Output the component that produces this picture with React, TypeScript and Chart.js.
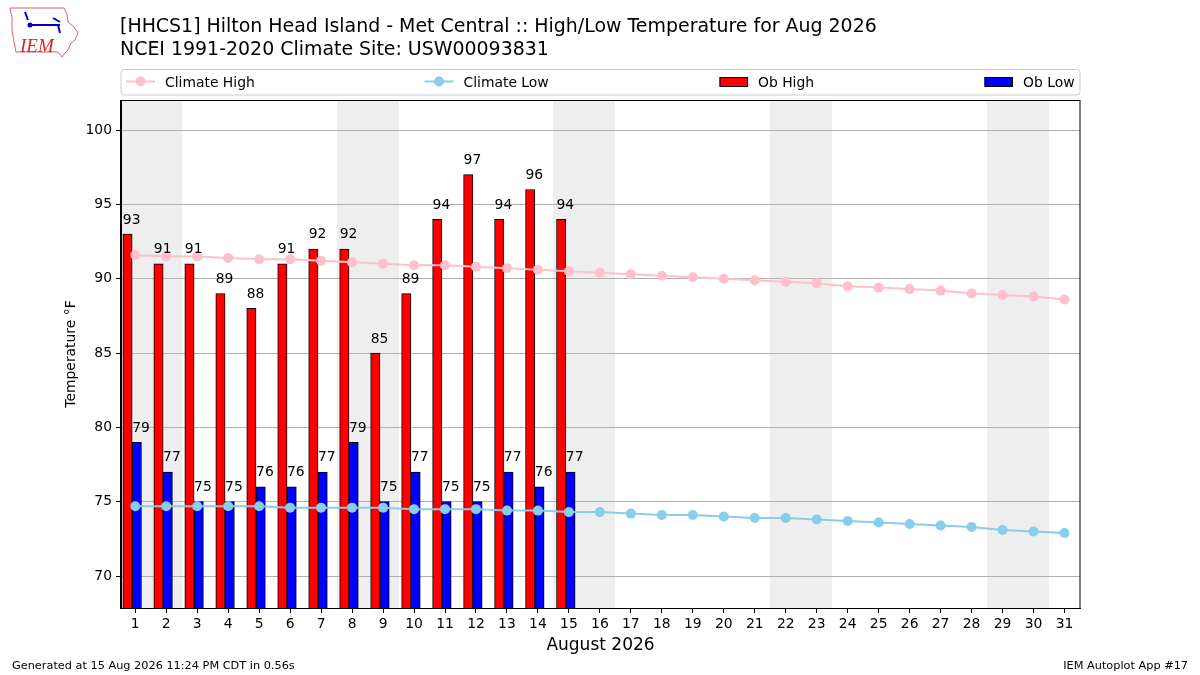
import { useEffect, useRef } from "react";
import { Chart, registerables } from "chart.js";

Chart.register(...registerables);

const days = [1, 2, 3, 4, 5, 6, 7, 8, 9, 10, 11, 12, 13, 14, 15, 16, 17, 18, 19, 20, 21, 22, 23, 24, 25, 26, 27, 28, 29, 30, 31];
const climateHigh = [91.6, 91.5, 91.5, 91.4, 91.3, 91.3, 91.2, 91.1, 91.0, 90.9, 90.9, 90.8, 90.7, 90.6, 90.5, 90.4, 90.3, 90.2, 90.1, 90.0, 89.9, 89.8, 89.7, 89.5, 89.4, 89.3, 89.2, 89.0, 88.9, 88.8, 88.6];
const climateLow = [74.7, 74.7, 74.7, 74.7, 74.7, 74.6, 74.6, 74.6, 74.6, 74.5, 74.5, 74.5, 74.4, 74.4, 74.3, 74.3, 74.2, 74.1, 74.1, 74.0, 73.9, 73.9, 73.8, 73.7, 73.6, 73.5, 73.4, 73.3, 73.1, 73.0, 72.9];
const obDays = [1, 2, 3, 4, 5, 6, 7, 8, 9, 10, 11, 12, 13, 14, 15];
const obHigh = [93, 91, 91, 89, 88, 91, 92, 92, 85, 89, 94, 97, 94, 96, 94];
const obLow = [79, 77, 75, 75, 76, 76, 77, 79, 75, 77, 75, 75, 77, 76, 77];
const weekendStarts = [1, 8, 15, 22, 29];
const yTicks = [70, 75, 80, 85, 90, 95, 100];

const titleLines = [
  "[HHCS1] Hilton Head Island - Met Central :: High/Low Temperature for Aug 2026",
  "NCEI 1991-2020 Climate Site: USW00093831",
];
const xTitle = "August 2026";
const yTitle = "Temperature °F";
const footerLeft = "Generated at 15 Aug 2026 11:24 PM CDT in 0.56s";
const footerRight = "IEM Autoplot App #17";

const FONT = "'DejaVu Sans', sans-serif";
const HIGH_OFFSET = -0.25;
const LOW_OFFSET = 0.05;

export default function App() {
  const ref = useRef<HTMLCanvasElement>(null);

  useEffect(() => {
    const canvas = ref.current;
    if (!canvas) return;

    const decor = {
      id: "decor",
      beforeDraw(chart: any) {
        const { ctx, chartArea } = chart;
        const xs = chart.scales.x;
        ctx.save();
        ctx.fillStyle = "#ffffff";
        ctx.fillRect(0, 0, chart.width, chart.height);
        ctx.fillStyle = "#eeeeee";
        for (const d of weekendStarts) {
          const x0 = Math.round(Math.max(chartArea.left, xs.getPixelForValue(d - 0.5)));
          const x1 = Math.round(Math.min(chartArea.right, xs.getPixelForValue(d + 1.5)));
          ctx.fillRect(x0, chartArea.top, x1 - x0, chartArea.bottom - chartArea.top);
        }
        ctx.restore();
      },
      afterDatasetsDraw(chart: any) {
        const { ctx } = chart;
        ctx.save();
        ctx.font = `13.9px ${FONT}`;
        ctx.fillStyle = "#000";
        ctx.textAlign = "left";
        ctx.textBaseline = "alphabetic";
        [0, 1].forEach((di) => {
          const meta = chart.getDatasetMeta(di);
          const vals = di === 0 ? obHigh : obLow;
          meta.data.forEach((el: any, i: number) => {
            const left = el.x - el.width / 2;
            ctx.fillText(String(vals[i]), left, el.y - 10.5);
          });
        });
        ctx.restore();
      },
      afterDraw(chart: any) {
        const { ctx, chartArea } = chart;
        ctx.save();
        // frame
        ctx.strokeStyle = "#000";
        ctx.lineWidth = 1;
        ctx.strokeRect(
          Math.round(chartArea.left) - 0.5,
          Math.round(chartArea.top) + 0.5,
          Math.round(chartArea.right - chartArea.left) + 0.5,
          Math.round(chartArea.bottom - chartArea.top)
        );
        // titles
        ctx.fillStyle = "#000";
        ctx.textAlign = "left";
        ctx.textBaseline = "alphabetic";
        ctx.font = `18.95px ${FONT}`;
        ctx.fillText(titleLines[0], 120, 31.5);
        ctx.fillText(titleLines[1], 120, 54.5);
        // axis titles
        ctx.font = `17px ${FONT}`;
        ctx.textAlign = "center";
        ctx.fillText(xTitle, (chartArea.left + chartArea.right) / 2, 650);
        ctx.save();
        ctx.translate(75, (chartArea.top + chartArea.bottom) / 2);
        ctx.rotate(-Math.PI / 2);
        ctx.font = `13.9px ${FONT}`;
        ctx.fillText(yTitle, 0, 0);
        ctx.restore();
        // footer
        ctx.font = `11.3px ${FONT}`;
        ctx.textAlign = "left";
        ctx.fillText(footerLeft, 12, 669);
        ctx.textAlign = "right";
        ctx.fillText(footerRight, 1188, 669);
        // legend
        const lx0 = 121, lx1 = 1080, ly0 = 69.5, ly1 = 95;
        ctx.beginPath();
        const r = 3;
        ctx.moveTo(lx0 + r, ly0);
        ctx.lineTo(lx1 - r, ly0);
        ctx.quadraticCurveTo(lx1, ly0, lx1, ly0 + r);
        ctx.lineTo(lx1, ly1 - r);
        ctx.quadraticCurveTo(lx1, ly1, lx1 - r, ly1);
        ctx.lineTo(lx0 + r, ly1);
        ctx.quadraticCurveTo(lx0, ly1, lx0, ly1 - r);
        ctx.lineTo(lx0, ly0 + r);
        ctx.quadraticCurveTo(lx0, ly0, lx0 + r, ly0);
        ctx.closePath();
        ctx.fillStyle = "rgba(255,255,255,0.8)";
        ctx.fill();
        ctx.strokeStyle = "#cccccc";
        ctx.stroke();
        const ly = 81.5;
        const drawLineItem = (x: number, color: string, label: string) => {
          ctx.strokeStyle = color;
          ctx.lineWidth = 2;
          ctx.beginPath();
          ctx.moveTo(x, ly);
          ctx.lineTo(x + 29, ly);
          ctx.stroke();
          ctx.fillStyle = color;
          ctx.beginPath();
          ctx.arc(x + 14.5, ly, 5, 0, Math.PI * 2);
          ctx.fill();
          ctx.fillStyle = "#000";
          ctx.textAlign = "left";
          ctx.font = `13.9px ${FONT}`;
          ctx.fillText(label, x + 39, 87);
        };
        const drawBoxItem = (x: number, color: string, label: string) => {
          ctx.fillStyle = color;
          ctx.fillRect(x, 77, 28, 9.5);
          ctx.strokeStyle = "#000";
          ctx.lineWidth = 1;
          ctx.strokeRect(x + 0.5, 77.5, 27.5, 9);
          ctx.fillStyle = "#000";
          ctx.textAlign = "left";
          ctx.font = `13.9px ${FONT}`;
          ctx.fillText(label, x + 38.5, 87);
        };
        drawLineItem(126, "#ffc0cb", "Climate High");
        drawLineItem(424.5, "#87ceeb", "Climate Low");
        drawBoxItem(719.5, "#ff0000", "Ob High");
        drawBoxItem(984.5, "#0000ff", "Ob Low");
        // logo
        ctx.strokeStyle = "#e06070";
        ctx.lineWidth = 1;
        ctx.beginPath();
        ctx.moveTo(10, 8);
        ctx.lineTo(64, 8);
        ctx.lineTo(67, 14);
        ctx.lineTo(68, 22);
        ctx.lineTo(74, 27);
        ctx.lineTo(78, 33);
        ctx.lineTo(75, 40);
        ctx.lineTo(71, 43);
        ctx.lineTo(68, 50);
        ctx.lineTo(65, 53);
        ctx.lineTo(62, 57);
        ctx.lineTo(58, 52);
        ctx.lineTo(16, 52);
        ctx.lineTo(14, 42);
        ctx.lineTo(12, 30);
        ctx.lineTo(12, 18);
        ctx.closePath();
        ctx.stroke();
        ctx.fillStyle = "#0000cc";
        ctx.strokeStyle = "#0000cc";
        ctx.lineWidth = 2;
        ctx.beginPath();
        ctx.moveTo(30, 25);
        ctx.lineTo(60, 25);
        ctx.moveTo(53, 18);
        ctx.lineTo(60, 22);
        ctx.moveTo(58, 25);
        ctx.lineTo(60, 33);
        ctx.moveTo(25, 12);
        ctx.lineTo(28, 20);
        ctx.stroke();
        ctx.beginPath();
        ctx.arc(30, 25, 2.5, 0, Math.PI * 2);
        ctx.fill();
        ctx.fillStyle = "#dd2222";
        ctx.font = `italic 19px 'Liberation Serif', serif`;
        ctx.textAlign = "left";
        ctx.fillText("IEM", 20, 52);
        ctx.restore();
      },
    };

    const chart = new Chart(canvas, {
      type: "bar",
      data: {
        datasets: [
          {
            type: "bar",
            label: "Ob High",
            data: obDays.map((d, i) => ({ x: d + HIGH_OFFSET, y: obHigh[i] })),
            backgroundColor: "#ff0000",
            borderColor: "#000000",
            borderWidth: 1,
            barThickness: 9.3,
            grouped: false,
            order: 2,
          } as any,
          {
            type: "bar",
            label: "Ob Low",
            data: obDays.map((d, i) => ({ x: d + LOW_OFFSET, y: obLow[i] })),
            backgroundColor: "#0000ff",
            borderColor: "#000000",
            borderWidth: 1,
            barThickness: 9.3,
            grouped: false,
            order: 2,
          } as any,
          {
            type: "line",
            label: "Climate High",
            data: days.map((d, i) => ({ x: d, y: climateHigh[i] })),
            borderColor: "#ffc0cb",
            backgroundColor: "#ffc0cb",
            borderWidth: 2,
            pointRadius: 5,
            pointBorderWidth: 0,
            order: 0,
          } as any,
          {
            type: "line",
            label: "Climate Low",
            data: days.map((d, i) => ({ x: d, y: climateLow[i] })),
            borderColor: "#87ceeb",
            backgroundColor: "#87ceeb",
            borderWidth: 2,
            pointRadius: 5,
            pointBorderWidth: 0,
            order: 0,
          } as any,
        ],
      },
      options: {
        responsive: false,
        animation: false,
        devicePixelRatio: 1,
        layout: { padding: { left: 0, right: 120, top: 100, bottom: 0 } },
        plugins: {
          legend: { display: false },
          title: { display: false },
          tooltip: { enabled: false },
        },
        scales: {
          x: {
            type: "linear",
            min: 0.54,
            max: 31.5,
            offset: false,
            afterFit: (s: any) => {
              s.height = 67;
            },
            afterBuildTicks: (s: any) => {
              s.ticks = days.map((v) => ({ value: v }));
            },
            grid: {
              offset: false,
              drawOnChartArea: false,
              drawTicks: true,
              tickLength: 5,
              tickColor: "#000",
            },
            border: { display: true, color: "#000", width: 1 },
            ticks: {
              autoSkip: false,
              maxRotation: 0,
              padding: 3,
              color: "#000",
              font: { family: FONT, size: 13.9 },
              callback: (v: any) => String(v),
            },
          },
          y: {
            type: "linear",
            min: 67.85,
            max: 102.02,
            afterFit: (s: any) => {
              s.width = 121;
            },
            afterBuildTicks: (s: any) => {
              s.ticks = yTicks.map((v) => ({ value: v }));
            },
            grid: {
              color: "#b0b0b0",
              lineWidth: 1,
              drawTicks: true,
              tickLength: 5,
              tickColor: "#000",
            },
            border: { display: true, color: "#000", width: 1 },
            ticks: {
              padding: 4,
              color: "#000",
              font: { family: FONT, size: 13.9 },
              callback: (v: any) => String(v),
            },
          },
        },
      },
      plugins: [decor as any],
    });

    return () => chart.destroy();
  }, []);

  return (
    <div style={{ position: "fixed", left: 0, top: 0, width: 1200, height: 675, background: "#fff" }}>
      <canvas ref={ref} width={1200} height={675} style={{ width: 1200, height: 675, display: "block" }} />
    </div>
  );
}
